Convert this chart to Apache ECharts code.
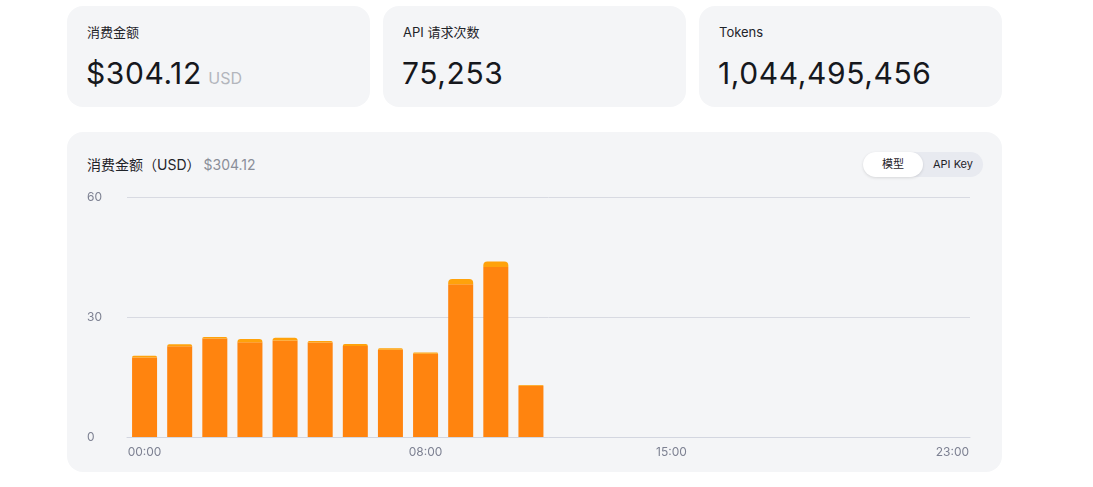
<!DOCTYPE html>
<html>
<head>
<meta charset="utf-8">
<script src="https://cdn.jsdelivr.net/npm/echarts@6/dist/echarts.min.js"></script>
<style>
  html,body{margin:0;padding:0;background:#fff;width:1093px;height:487px;overflow:hidden;font-family:Inter,"Noto Sans CJK SC",sans-serif;}
  .card{position:absolute;background:#f4f5f7;border-radius:16px;}
  .lbl{position:absolute;left:20px;top:17px;font-size:13px;color:#1f2329;line-height:18px;}
  .val{position:absolute;left:19px;top:49px;font-size:30px;color:#16181d;line-height:36px;letter-spacing:0.6px;}
  .val small{font-size:16px;color:#b3b6bd;margin-left:2px;letter-spacing:0;}
  #chart{position:absolute;left:0;top:0;width:1093px;height:487px;}
  .hdr{position:absolute;left:20px;top:23px;font-size:14px;color:#1f2329;line-height:20px;}
  .hdr span{color:#8a8e99;margin-left:3px;}
  .tog{position:absolute;left:796px;top:20px;width:120px;height:25px;background:#e8eaf0;border-radius:13px;font-size:11px;}
  .tog .on{position:absolute;left:0;top:0;width:60px;height:25px;background:#fff;border-radius:13px;box-shadow:0 1px 3px rgba(0,0,0,0.12);text-align:center;line-height:25px;color:#1f2329;}
  .tog .off{position:absolute;left:70px;top:0;line-height:25px;color:#1f2329;}
</style>
</head>
<body>
<div class="card" style="left:67px;top:6px;width:303px;height:101px;">
  <div class="lbl">消费金额</div>
  <div class="val">$304.12<small> USD</small></div>
</div>
<div class="card" style="left:383px;top:6px;width:303px;height:101px;">
  <div class="lbl">API 请求次数</div>
  <div class="val">75,253</div>
</div>
<div class="card" style="left:699px;top:6px;width:303px;height:101px;">
  <div class="lbl">Tokens</div>
  <div class="val">1,044,495,456</div>
</div>
<div class="card" style="left:67px;top:132px;width:935px;height:340px;">
  <div class="hdr">消费金额（USD）<span>$304.12</span></div>
  <div class="tog"><div class="on">模型</div><div class="off">API Key</div></div>
</div>
<div id="chart"></div>
<script>
const hours = ["00:00","01:00","02:00","03:00","04:00","05:00","06:00","07:00","08:00","09:00","10:00","11:00","12:00","13:00","14:00","15:00","16:00","17:00","18:00","19:00","20:00","21:00","22:00","23:00"];
const mainCost = [19.9, 22.7, 24.6, 23.7, 24.1, 23.6, 22.75, 21.8, 20.8, 38.2, 42.5, 12.8, null, null, null, null, null, null, null, null, null, null, null, null];
const topCost  = [0.4, 0.5, 0.4, 0.8, 0.7, 0.4, 0.5, 0.4, 0.3, 1.3, 1.4, 0.2, null, null, null, null, null, null, null, null, null, null, null, null];
const shownLabels = ["00:00","08:00","15:00","23:00"];
const yTicks = [0, 30, 60];

const chart = echarts.init(document.getElementById('chart'), null, {renderer:'canvas'});
chart.setOption({
  animation:false,
  grid:{left:127,right:123,top:197,bottom:50,containLabel:false},
  xAxis:{
    type:'category',
    data:hours,
    axisLine:{show:true,lineStyle:{color:'#d3d6e0',width:1}},
    axisTick:{show:false},
    axisLabel:{
      color:'#7d8192',fontSize:12,fontFamily:'Inter',margin:9,
      interval:function(i,v){return shownLabels.indexOf(v)>=0;}
    }
  },
  yAxis:{
    type:'value',min:yTicks[0],max:yTicks[yTicks.length-1],interval:yTicks[1]-yTicks[0],
    axisLine:{show:false},axisTick:{show:false},
    axisLabel:{color:'#7d8192',fontSize:12,fontFamily:'Inter',align:'left',margin:40},
    splitLine:{lineStyle:{color:'#d8dae2',width:1}}
  },
  series:[
    {type:'bar',stack:'c',data:mainCost,barWidth:25,itemStyle:{color:'#ff840f'}},
    {type:'bar',stack:'c',data:topCost,barWidth:25,itemStyle:{color:'#ffa20b',borderRadius:[4,4,0,0]}}
  ]
});
</script>
</body>
</html>
